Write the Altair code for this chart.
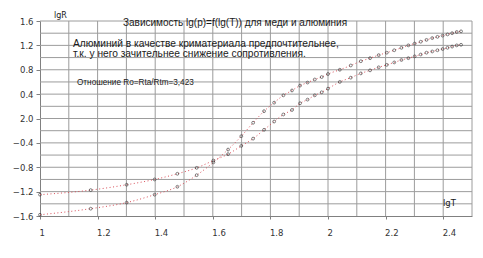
import altair as alt
import pandas as pd

# lg T values (T = 10..100 step 5, 110..290 step 10)
lgT = [1.000, 1.176, 1.301, 1.398, 1.477, 1.544, 1.602, 1.653, 1.699, 1.740,
       1.778, 1.813, 1.845, 1.875, 1.903, 1.929, 1.954, 1.978, 2.000, 2.041,
       2.079, 2.114, 2.146, 2.176, 2.204, 2.230, 2.255, 2.279, 2.301, 2.322,
       2.342, 2.362, 2.380, 2.398, 2.415, 2.431, 2.447, 2.462]
lgR_1 = [-1.58, -1.48, -1.38, -1.25, -1.12, -0.93, -0.72, -0.51, -0.29, -0.07,
         0.12, 0.26, 0.38, 0.46, 0.54, 0.59, 0.64, 0.68, 0.73, 0.80,
         0.87, 0.94, 0.99, 1.04, 1.08, 1.12, 1.16, 1.20, 1.23, 1.26,
         1.29, 1.32, 1.34, 1.36, 1.38, 1.40, 1.42, 1.43]
lgR_2 = [-1.25, -1.175, -1.087, -1.0, -0.907, -0.81, -0.69, -0.585, -0.45, -0.33,
         -0.185, -0.05, 0.066, 0.14, 0.25, 0.31, 0.38, 0.43, 0.49, 0.60,
         0.67, 0.74, 0.79, 0.84, 0.88, 0.92, 0.96, 0.99, 1.02, 1.05,
         1.08, 1.10, 1.12, 1.14, 1.16, 1.18, 1.20, 1.21]
series_names = ["медь", "алюминий"]

x_grid = [round(1.1 + 0.1 * i, 1) for i in range(15)]   # 1.1 .. 2.5
y_grid = [round(-1.4 + 0.2 * i, 1) for i in range(16)]  # -1.4 .. 1.6
x_labels = [1.0, 1.2, 1.4, 1.6, 1.8, 2.0, 2.2, 2.4]
y_labels = [-1.6, -1.2, -0.8, -0.4, 0.0, 0.4, 0.8, 1.2, 1.6]

title_text = "Зависимость lg(p)=f(lg(T)) для меди и алюминия"
note_lines = ["Алюминий в качестве криматериала предпочтительнее,",
              "т.к. у него зачительнее снижение сопротивления."]
ratio_text = "Отношение Ro=Rta/Rtm=3,423"

df = pd.DataFrame({
    "lgT": lgT * 2,
    "lgR": lgR_1 + lgR_2,
    "s": [series_names[0]] * len(lgT) + [series_names[1]] * len(lgT),
})

W, H = 432, 195
FONT = "DejaVu Sans"
TFONT = "Liberation Sans"
GRID = "#9c9c9c"

xs = alt.Scale(domain=[1, 2.5], nice=False, zero=False)
ys = alt.Scale(domain=[-1.6, 1.6], nice=False, zero=False)

x_axis = alt.Axis(values=x_labels, grid=False, orient="bottom", title=None,
                  labelExpr="format(datum.value, '~g')", labelOverlap=False,
                  labelFont=FONT, labelFontSize=8.5, labelColor="#333",
                  labelAlign="left", labelOffset=-1, labelPadding=9,
                  tickSize=3, tickColor="#808080", domainColor="#808080")
y_axis = alt.Axis(values=y_labels, grid=False, orient="left", title=None,
                  labelExpr="datum.value == 0 ? '2.0' : format(datum.value, '.1f')",
                  labelOverlap=False, labelFlush=False,
                  labelFont=FONT, labelFontSize=8.5, labelColor="#333",
                  labelPadding=3, tickSize=4, tickColor="#808080",
                  domainColor="#808080")

vgrid = alt.Chart(pd.DataFrame({"gx": x_grid})).mark_rule(
    color=GRID, strokeWidth=1).encode(x=alt.X("gx:Q", scale=xs, axis=x_axis))
hgrid = alt.Chart(pd.DataFrame({"gy": y_grid})).mark_rule(
    color=GRID, strokeWidth=1).encode(y=alt.Y("gy:Q", scale=ys, axis=y_axis))

base = alt.Chart(df)

lines = base.mark_line(color="#d9505a", strokeDash=[1, 2.5], strokeWidth=1,
                       interpolate="monotone").encode(
    x=alt.X("lgT:Q", scale=xs, axis=x_axis),
    y=alt.Y("lgR:Q", scale=ys, axis=y_axis),
    detail="s:N",
)

points = base.mark_point(shape="circle", filled=False, color="#333333", size=8,
                         strokeWidth=0.9).encode(
    x=alt.X("lgT:Q", scale=xs, axis=x_axis),
    y=alt.Y("lgR:Q", scale=ys, axis=y_axis),
    detail="s:N",
)

def txt(text, x, y, size, font=TFONT, align="left"):
    return alt.Chart(pd.DataFrame({"t": [text]})).mark_text(
        align=align, baseline="middle", font=font, fontSize=size, color="#1a1a1a"
    ).encode(text="t:N", x=alt.value(x), y=alt.value(y))

texts = [
    txt(title_text, 83, 1.5, 10),
    txt(note_lines[0], 33, 23, 10.2),
    txt(note_lines[1], 33, 33, 10.2),
    txt(ratio_text, 37, 62, 8.2),
    txt("lgR", 14, -5, 8, font=FONT),
    txt("lgT", 403, 181.5, 8.5, font=FONT),
]

chart = alt.layer(vgrid, hgrid, lines, points, *texts).properties(
    width=W, height=H,
    padding={"left": 40, "top": 21, "right": 11, "bottom": 42},
    autosize=alt.AutoSizeParams(type="none"),
    background="white",
).configure_view(stroke=None)

chart.save("out.html", embed_options={"renderer": "svg", "actions": False})
